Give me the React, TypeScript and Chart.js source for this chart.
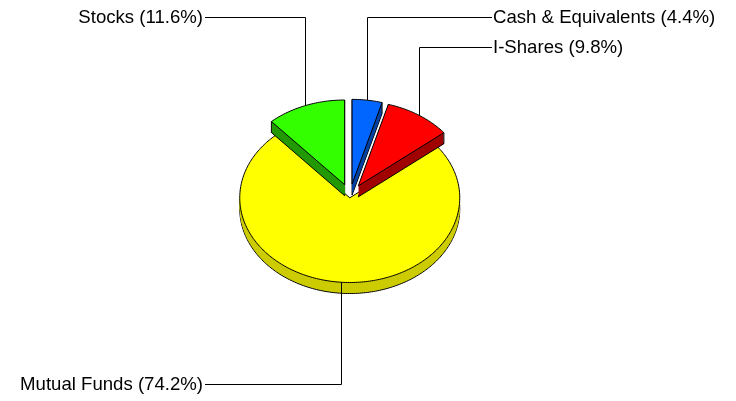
import React, { useEffect, useRef } from 'react';
import { Chart, registerables } from 'chart.js';

Chart.register(...registerables);

const categories = ['Cash & Equivalents', 'I-Shares', 'Mutual Funds', 'Stocks'];
const percentages = [4.4, 9.8, 74.2, 11.6];
const topColors = ['#0066FF', '#FF0000', '#FFFF00', '#33FF00'];
const sideColors = ['#0040A0', '#A00000', '#CCCC00', '#229900'];
const explodeBy = [15, 15, 3, 15];

// text anchor and leader-line level for each label
const labelLayout = [
  { side: 'right', x: 493, y: 17 },
  { side: 'right', x: 493, y: 47 },
  { side: 'left', x: 203, y: 384 },
  { side: 'left', x: 203, y: 17 },
];

const TILT = 0.77;
const DEPTH = 11;
const DRAW_ORDER = [2, 0, 1, 3];

function geom(arc: any, i: number) {
  const x = arc.x, y = arc.y;
  const s = arc.startAngle, e = arc.endAngle, r = arc.outerRadius;
  const mid = (s + e) / 2;
  const ex = explodeBy[i] * Math.cos(mid);
  const ey = explodeBy[i] * Math.sin(mid);
  const pt = (th: number, rr: number, dz: number) => [
    x + ex + rr * Math.cos(th),
    y + (ey + rr * Math.sin(th)) * TILT + dz,
  ];
  return { x, y, s, e, r, mid, ex, ey, pt };
}

function slicePath(ctx: CanvasRenderingContext2D, g: any, dz: number) {
  ctx.beginPath();
  const c = g.pt(0, 0, dz);
  ctx.moveTo(c[0], c[1]);
  const n = Math.max(8, Math.ceil(((g.e - g.s) * g.r) / 2));
  for (let k = 0; k <= n; k++) {
    const th = g.s + ((g.e - g.s) * k) / n;
    const p = g.pt(th, g.r, dz);
    ctx.lineTo(p[0], p[1]);
  }
  ctx.closePath();
}

const pie3dPlugin = {
  id: 'pie3d',
  beforeDatasetsDraw(chart: any) {
    const ctx: CanvasRenderingContext2D = chart.ctx;
    const arcs = chart.getDatasetMeta(0).data;
    ctx.save();
    ctx.lineJoin = 'round';
    for (const i of DRAW_ORDER) {
      const arc = arcs[i];
      if (!arc) continue;
      const g = geom(arc, i);
      // extruded side
      for (let d = DEPTH; d >= 1; d--) {
        slicePath(ctx, g, d);
        ctx.fillStyle = sideColors[i];
        ctx.fill();
        if (d === DEPTH) {
          ctx.strokeStyle = '#000';
          ctx.lineWidth = 1;
          ctx.stroke();
        }
      }
      // vertical edges at outer corners
      ctx.strokeStyle = '#000';
      ctx.lineWidth = 1;
      for (const th of [g.s, g.e]) {
        const a = g.pt(th, g.r, 0);
        const b = g.pt(th, g.r, DEPTH);
        ctx.beginPath();
        ctx.moveTo(a[0], a[1]);
        ctx.lineTo(b[0], b[1]);
        ctx.stroke();
      }
      // top face, filled by the library's arc element
      ctx.save();
      ctx.translate(g.x, g.y);
      ctx.scale(1, TILT);
      ctx.translate(-g.x, -g.y);
      ctx.translate(g.ex, g.ey);
      arc.draw(ctx);
      ctx.restore();
      slicePath(ctx, g, 0);
      ctx.strokeStyle = arc.options.borderColor || '#000';
      ctx.lineWidth = 1;
      ctx.stroke();
    }
    ctx.restore();
    return false;
  },
  afterDraw(chart: any) {
    const ctx: CanvasRenderingContext2D = chart.ctx;
    const arcs = chart.getDatasetMeta(0).data;
    ctx.save();
    ctx.strokeStyle = '#000';
    ctx.lineWidth = 1;
    ctx.fillStyle = '#000';
    ctx.font = "18.6px 'Liberation Sans', Arial, sans-serif";
    ctx.textBaseline = 'middle';
    arcs.forEach((arc: any, i: number) => {
      const g = geom(arc, i);
      const a = g.pt(g.mid, g.r, 0);
      const L = labelLayout[i];
      const ax = Math.round(a[0]) + 0.5;
      const ly = Math.round(L.y) + 0.5;
      ctx.beginPath();
      ctx.moveTo(ax, a[1]);
      ctx.lineTo(ax, ly);
      ctx.lineTo(L.side === 'right' ? L.x - 1 : L.x + 2, ly);
      ctx.stroke();
      ctx.textAlign = L.side === 'right' ? 'left' : 'right';
      ctx.fillText(`${categories[i]} (${percentages[i].toFixed(1)}%)`, L.x, L.y + 1);
    });
    ctx.restore();
  },
};

export default function App() {
  const ref = useRef<HTMLCanvasElement>(null);
  useEffect(() => {
    if (!ref.current) return;
    const chart = new Chart(ref.current, {
      type: 'pie',
      data: {
        labels: categories,
        datasets: [
          {
            data: percentages,
            backgroundColor: topColors,
            borderColor: '#000',
            borderWidth: 0,
            radius: 110,
          } as any,
        ],
      },
      options: {
        responsive: false,
        animation: false,
        radius: 110,
        layout: { padding: { left: 0, right: 36, top: 0, bottom: 10 } },
        plugins: { legend: { display: false }, tooltip: { enabled: false } },
        events: [],
      } as any,
      plugins: [pie3dPlugin],
    });
    return () => chart.destroy();
  }, []);
  return (
    <div style={{ position: 'absolute', left: 0, top: 0, width: 736, height: 401, background: '#fff' }}>
      <canvas ref={ref} width={736} height={401} />
    </div>
  );
}
